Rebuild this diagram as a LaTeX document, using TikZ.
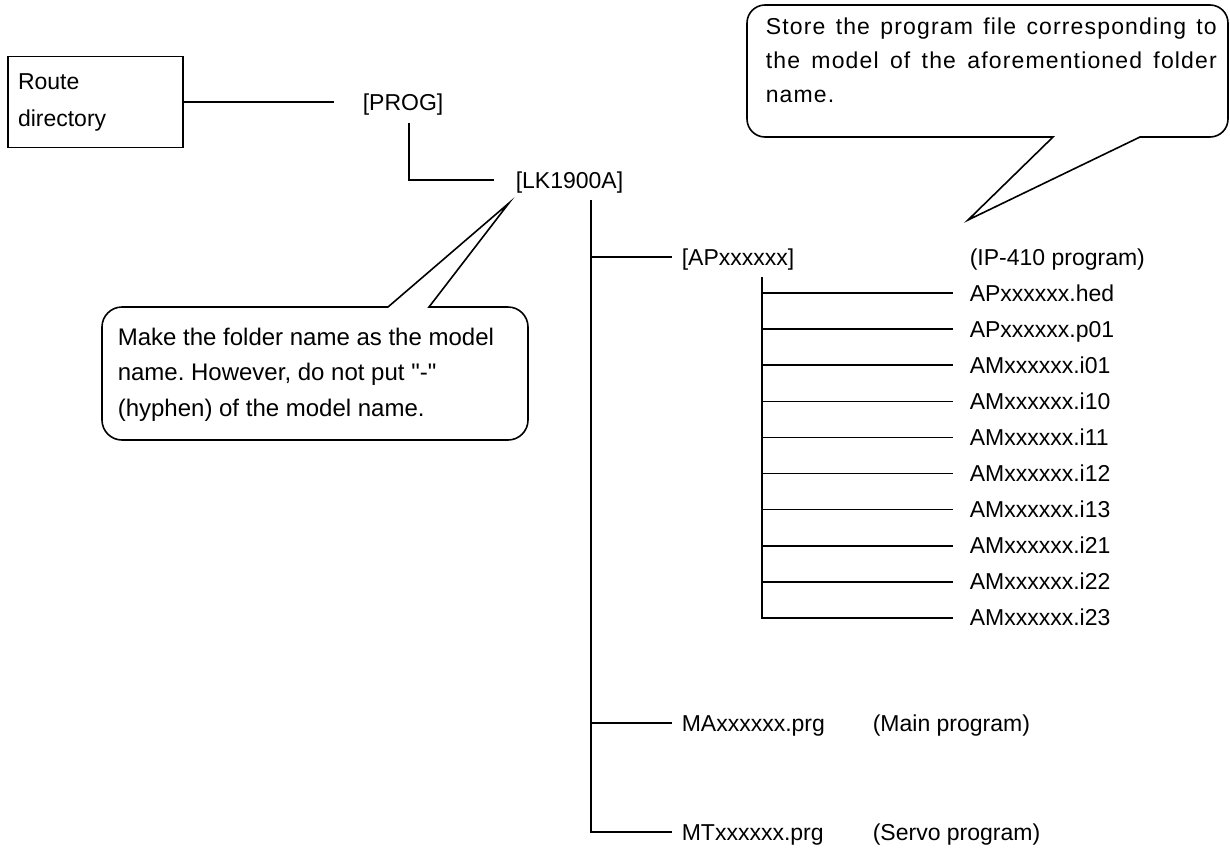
\documentclass[tikz,border=0pt]{standalone}
\usepackage{fontspec}
\setmainfont{Liberation Sans}
\usetikzlibrary{positioning}

\tikzset{
  lbl/.style={anchor=west,inner sep=0pt,text height=17pt,text depth=1pt},
  rootbox/.style={draw,inner sep=0pt,minimum width=175pt,minimum height=91pt,
    text width=155pt,align=left,font=\fontsize{23}{37}\selectfont},
  notetxt/.style={inner sep=0pt,anchor=north west},
}

\begin{document}
\frenchspacing
\begin{tikzpicture}[x=1pt,y=-1pt,line width=1.6pt,font=\fontsize{23}{34}\selectfont]
  \useasboundingbox (0,0) rectangle (1230,849);

  % root and first levels
  \node[rootbox] (root) at (95.5,102) {Route\\directory};
  \node[lbl] (prog) at (362,102) {[PROG]};
  \node[lbl] (lk) at (515,180) {[LK1900A]};
  \draw (root.east) -- ([xshift=-28pt]prog.west);
  \draw ([xshift=47pt,yshift=-21pt]prog.west) |- ([xshift=-21pt]lk.west);

  % model folder
  \coordinate (trunk) at ([xshift=76pt,yshift=-20pt]lk.west);
  \node[lbl] (ap) at (681,257) {[APxxxxxx]};
  \node[lbl] (apnote) at (969,257) {(IP-410 program)};
  \node[lbl] (ma) at (681,723) {MAxxxxxx.prg};
  \node[lbl] (manote) at (872,723) {(Main program)};
  \node[lbl] (mt) at (681,832) {MTxxxxxx.prg};
  \node[lbl] (mtnote) at (872,832) {(Servo program)};
  \draw (trunk) |- ([xshift=-9pt]mt.west);
  \foreach \n in {ap,ma}
    \draw (trunk |- \n.west) -- ([xshift=-9pt]\n.west);

  % files in [APxxxxxx]
  \coordinate (sub) at ([xshift=81pt,yshift=-20pt]ap.west);
  \foreach \f [count=\i] in {APxxxxxx.hed,APxxxxxx.p01,AMxxxxxx.i01,AMxxxxxx.i10,
      AMxxxxxx.i11,AMxxxxxx.i12,AMxxxxxx.i13,AMxxxxxx.i21,AMxxxxxx.i22,AMxxxxxx.i23}
    \node[lbl] (file\i) at (969,{293+36.1*(\i-1)}) {\f};
  \draw (sub) |- ([xshift=-16pt]file10.west);
  \foreach \i in {1,...,9}
    \draw (sub |- file\i.west) -- ([xshift=-16pt]file\i.west);

  % callouts
  \node[notetxt,text width=451pt,align=justify] (storenote) at (765,17)
    {\addfontfeature{LetterSpace=5}Store the program file corresponding to\linebreak
     the model of the aforementioned folder\linebreak name.};
  \draw[rounded corners=18pt] (990,5) -- (1228,5) -- (1228,137)
    [sharp corners] -- (1140,137) -- (968,220) -- (1053,137)
    [rounded corners=18pt] -- (747,137) -- (747,5) -- cycle;

  \node[notetxt,align=left,font=\fontsize{24}{35.5}\selectfont] (foldnote) at (117,327)
    {Make the folder name as the model\\name. However, do not put \textquotedbl-\textquotedbl\\(hyphen) of the model name.};
  \draw[rounded corners=20pt] (250,440) -- (102,440) -- (102,307)
    [sharp corners] -- (388,307) -- ([xshift=-6pt,yshift=-23pt]lk.west) -- (429,307)
    [rounded corners=20pt] -- (528,307) -- (528,440) -- cycle;
\end{tikzpicture}
\end{document}
